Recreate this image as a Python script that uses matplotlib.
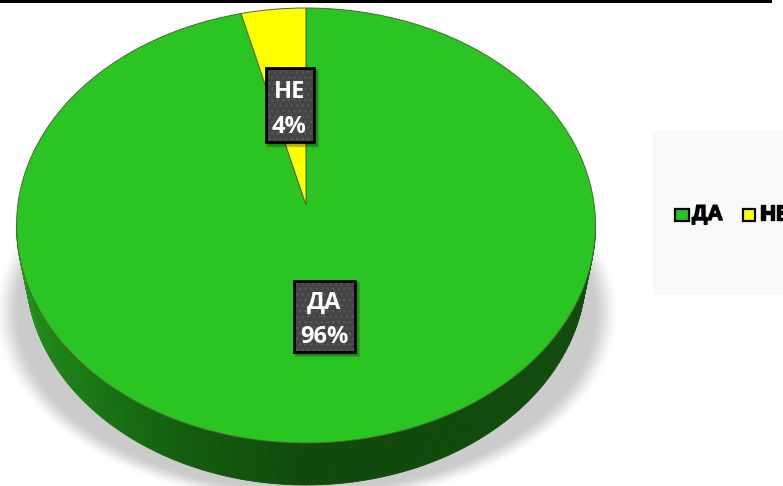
import numpy as np
import matplotlib
matplotlib.use("Agg")
import matplotlib.pyplot as plt
from matplotlib.patches import Rectangle, Polygon, PathPatch
from matplotlib.path import Path
from matplotlib.colors import LinearSegmentedColormap
from matplotlib import patheffects as pe

categorias = ["ДА", "НЕ"]
valores = [96.4, 3.6]
colores = ["#2AC423", "#FFFF00"]

W, H = 783, 486
CX, CY, RX, RY = 306, 225.5, 289.5, 217.5
# elipse inferior del canto, algo menor por la perspectiva
CY2, RX2, RY2 = 271, 280, 214
# el vertice de las porciones queda por encima del centro de la elipse
APEX = 20.5 / RY

fig = plt.figure(figsize=(W / 100, H / 100), dpi=100, facecolor="white")

fondo = fig.add_axes([0, 0, 1, 1])
fondo.set_xlim(0, W)
fondo.set_ylim(H, 0)
fondo.axis("off")

# sombra difusa debajo del disco
yy, xx = np.mgrid[0:H, 0:W]
dist = np.sqrt(((xx - 306) / 304) ** 2 + ((yy - 312) / 187) ** 2)
sombra = np.clip((1.03 - dist) / 0.09, 0, 1)
sombra = sombra * sombra * (3 - 2 * sombra)
sombra = sombra * np.clip((yy - 205) / 50, 0, 1)
cmap_s = LinearSegmentedColormap.from_list("s", ["#ffffff", "#cbcbcb"])
fondo.imshow(sombra, cmap=cmap_s, extent=(0, W, H, 0), vmin=0, vmax=1, aspect="auto", zorder=1)

# panel de la leyenda y barra superior
fondo.add_patch(Rectangle((653, 131), 140, 164, fc="#F9F9F9", ec="none", zorder=2))
fondo.add_patch(Rectangle((-5, -5), 777, 8.5, fc="black", ec="none", zorder=2))

# canto del disco con degradado
ang = np.linspace(0, np.pi, 241)
canto = LinearSegmentedColormap.from_list(
    "c", [(0, "#259A1E"), (0.2, "#1C7C16"), (0.38, "#125A0E"), (0.5, "#114A0C"), (1, "#124C0D")])
for a0, a1 in zip(ang[:-1], ang[1:]):
    t = np.array([a0, a1])
    c = canto(1 - (a0 + a1) / 2 / np.pi)
    pts = [(CX + RX * np.cos(t[0]), CY + RY * np.sin(t[0])),
           (CX + RX * np.cos(t[1]), CY + RY * np.sin(t[1])),
           (CX + RX2 * np.cos(t[1]), CY2 + RY2 * np.sin(t[1])),
           (CX + RX2 * np.cos(t[0]), CY2 + RY2 * np.sin(t[0]))]
    fondo.add_patch(Polygon(pts, fc=c, ec=c, lw=0.6, zorder=3))

# disco superior
ax = fig.add_axes([(CX - RX) / W, 1 - (CY + RY) / H, 2 * RX / W, 2 * RY / H])
ax.patch.set_alpha(0)
porciones, _ = ax.pie(valores, colors=colores, startangle=90, counterclock=False, radius=1)
ax.set_aspect("auto")
ax.set_xlim(-1, 1)
ax.set_ylim(-1, 1)
for p, color in zip(porciones, colores):
    camino = p.get_path()
    verts = camino.vertices.copy()
    verts[np.hypot(verts[:, 0], verts[:, 1]) < 1e-6] = (0, APEX)
    p.remove()
    ax.add_patch(PathPatch(Path(verts, camino.codes), fc=color, ec="#4A6A30", lw=0.7, clip_on=False))

# etiquetas de datos
over = fig.add_axes([0, 0, 1, 1])
over.set_xlim(0, W)
over.set_ylim(H, 0)
over.axis("off")
over.patch.set_alpha(0)
cajas = [(293.5, 280.5, 61, 71), (265.5, 68.5, 48, 74)]
for nombre, valor, (x, y, w, h) in zip(categorias, valores, cajas):
    for g in range(5, 0, -1):
        over.add_patch(Rectangle((x + 3 - g / 2, y + 3 - g / 2), w + g, h + g, fc="black", alpha=0.07, ec="none", zorder=4))
    over.add_patch(Rectangle((x, y), w, h, fc="#454545", ec="none", zorder=5))
    over.add_patch(Rectangle((x, y), w, h, fc="none", ec="#585858", lw=0, hatch="...", zorder=5))
    over.add_patch(Rectangle((x, y), w, h, fc="none", ec="black", lw=2, zorder=5))
    over.text(x + w / 2, y + h / 2 + 4, f"{nombre}\n{valor:.0f}%", color="white", ha="center", va="center",
              fontsize=17, fontweight="bold", family="Open Sans", linespacing=1.6, zorder=6)

# leyenda
for nombre, color, xk, wk, xt in zip(categorias, colores, [674.5, 742.5], [14, 12], [692, 760]):
    over.add_patch(Rectangle((xk, 208.5), wk, 12, fc=color, ec="black", lw=1.6, zorder=5))
    over.text(xt, 214.5, nombre, fontsize=15.5, fontweight="bold", family="Liberation Sans",
              color="black", va="center", ha="left", zorder=5,
              path_effects=[pe.withStroke(linewidth=1.0, foreground="black")])

fig.savefig("out.png", dpi=100)
